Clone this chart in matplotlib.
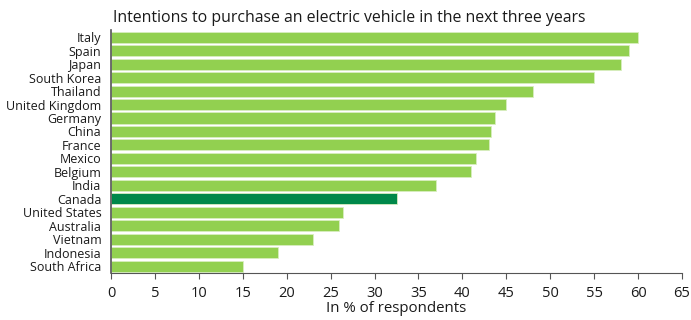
import matplotlib.pyplot as plt

countries = ["Italy", "Spain", "Japan", "South Korea", "Thailand", "United Kingdom",
             "Germany", "China", "France", "Mexico", "Belgium", "India", "Canada",
             "United States", "Australia", "Vietnam", "Indonesia", "South Africa"]
values = [60, 59, 58, 55, 48, 45, 43.7, 43.3, 43, 41.5, 41, 37, 32.6,
          26.4, 26, 23, 19, 15]
highlight = "Canada"

plt.rcParams['font.family'] = ['Open Sans', 'DejaVu Sans']

fig = plt.figure(figsize=(6.91, 3.20), dpi=100)
ax = fig.add_axes([0.1606, 0.147, 0.8264, 0.758])

n = len(countries)
ypos = [n - 1 - i for i in range(n)]
colors = ["#00884A" if c == highlight else "#92D050" for c in countries]
ax.barh(ypos, values, height=0.82, color=colors, edgecolor="#d8eec0", linewidth=0.6)

ax.set_ylim(-0.5, n - 0.5)
ax.set_xlim(0, 65)
ax.set_yticks(ypos)
ax.set_yticklabels(countries, fontsize=9, color="#1a1a1a")
ax.tick_params(axis="y", length=0, pad=7)
ax.set_xticks(range(0, 66, 5))
ax.tick_params(axis="x", length=4.5, width=0.8, color="#555555", labelsize=10.5,
               labelcolor="#1a1a1a", pad=5)

for s in ["top", "right"]:
    ax.spines[s].set_visible(False)
ax.spines["left"].set_color("#555555")
ax.spines["bottom"].set_color("#555555")
ax.spines["left"].set_linewidth(1.2)

ax.set_xlabel("In % of respondents", fontsize=10.8, labelpad=0, color="#1a1a1a")
fig.text(0.1635, 0.945, "Intentions to purchase an electric vehicle in the next three years",
         fontsize=11.4, va="center", ha="left", color="#1a1a1a")

fig.savefig("out.png", dpi=100)
